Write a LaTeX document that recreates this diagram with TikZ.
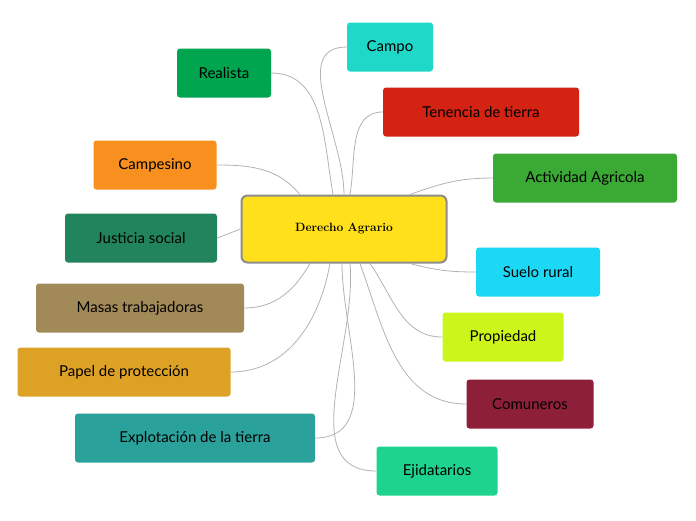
\documentclass[tikz,border=0pt]{standalone}
\usepackage{fontspec}
\newfontfamily\leaffont{Lato}
\usetikzlibrary{positioning, calc}
\definecolor{cRealista}{HTML}{00A550}
\definecolor{cCampo}{HTML}{1FD8C8}
\definecolor{cTenencia}{HTML}{D42313}
\definecolor{cCampesino}{HTML}{F7901E}
\definecolor{cActividad}{HTML}{3BAA35}
\definecolor{cJusticia}{HTML}{22845C}
\definecolor{cSuelo}{HTML}{1DD8F5}
\definecolor{cMasas}{HTML}{A28A58}
\definecolor{cPropiedad}{HTML}{CCF51C}
\definecolor{cPapel}{HTML}{DDA126}
\definecolor{cComuneros}{HTML}{8E1F38}
\definecolor{cExplota}{HTML}{2BA19C}
\definecolor{cEjida}{HTML}{1ED38D}
\definecolor{cCore}{HTML}{FFE01A}
\tikzset{
Leaf/.style={rounded corners=3pt, minimum height=49pt, inner sep=0pt,
  font=\leaffont\fontsize{15}{17}\selectfont, text=black},
Link/.style={draw=black!30, thick},
}
\begin{document}
\begin{tikzpicture}[x=1pt,y=1pt]
    \useasboundingbox (0,0) rectangle (696,-520);
    \node [draw=black!45, line width=2pt, fill=cCore, rounded corners=6pt,
        minimum width=205pt, minimum height=67pt, inner sep=0pt,
        font=\bfseries\large] (core) at (344,-229) {Derecho Agrario};

    \node [Leaf, fill=cRealista, minimum width=94pt] (realista) at (224,-73) {Realista};
    \node [Leaf, fill=cCampo, minimum width=86pt] (campo) at (390,-47) {Campo};
    \node [Leaf, fill=cTenencia, minimum width=196pt] (tenencia) at (481,-112) {Tenencia de tierra};
    \node [Leaf, fill=cCampesino, minimum width=123pt] (campesino) at (155,-165) {Campesino};
    \node [Leaf, fill=cActividad, minimum width=184pt] (actividad) at (585,-178) {Actividad Agricola};
    \node [Leaf, fill=cJusticia, minimum width=152pt] (justicia) at (141,-238) {Justicia social};
    \node [Leaf, fill=cSuelo, minimum width=124pt] (suelo) at (538,-272) {Suelo rural};
    \node [Leaf, fill=cMasas, minimum width=208pt] (masas) at (140,-308) {Masas trabajadoras};
    \node [Leaf, fill=cPropiedad, minimum width=121pt] (propiedad) at (503,-337) {Propiedad};
    \node [Leaf, fill=cPapel, minimum width=213pt] (papel) at (124,-372) {Papel de protección};
    \node [Leaf, fill=cComuneros, minimum width=127pt] (comuneros) at (530,-404) {Comuneros};
    \node [Leaf, fill=cExplota, minimum width=240pt] (explota) at (195,-438) {Explotación de la tierra};
    \node [Leaf, fill=cEjida, minimum width=121pt] (ejida) at (437,-471) {Ejidatarios};

    % upper branches
    \draw[Link] ([xshift=-11pt]core.north) to [out=100, in=0] (realista.east);
    \draw[Link] (core.north) to [out=90, in=180] (campo.west);
    \draw[Link] ([xshift=6pt]core.north) to [out=80, in=180] (tenencia.west);
    \draw[Link] ([xshift=-44pt]core.north) to [out=130, in=0] (campesino.east);
    \draw[Link] ([xshift=66pt]core.north) to [out=20, in=180] (actividad.west);
    \draw[Link] (core.west) -- (justicia.east);
    % lower branches
    \draw[Link] ([xshift=66pt]core.south) to [out=-15, in=180] (suelo.west);
    \draw[Link] ([xshift=-34pt]core.south) to [out=-120, in=0] (masas.east);
    \draw[Link] ([xshift=26pt]core.south) to [out=-55, in=180] (propiedad.west);
    \draw[Link] ([xshift=-14pt]core.south) to [out=-100, in=0] (papel.east);
    \draw[Link] ([xshift=16pt]core.south) to [out=-70, in=180] (comuneros.west);
    \draw[Link] ([xshift=-2pt]core.south) to [out=-90, in=0] (explota.east);
    \draw[Link] ([xshift=6pt]core.south) to [out=-85, in=180] (ejida.west);
\end{tikzpicture}
\end{document}
